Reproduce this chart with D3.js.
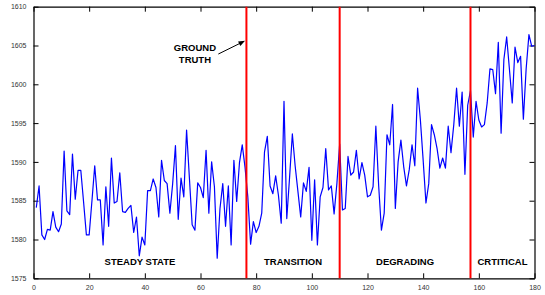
<!DOCTYPE html>
<html>
<head>
<meta charset="utf-8">
<script src="https://cdn.jsdelivr.net/npm/d3@7/dist/d3.min.js"></script>
<style>
body { margin: 0; background: #fff; }
.tick text { font-family: "Liberation Sans", Arial, sans-serif; font-size: 7px; }
.phase, .note { font-family: "Liberation Sans", Arial, sans-serif; font-size: 9.5px; font-weight: bold; fill: #000; }
</style>
</head>
<body>
<div id="chart"></div>
<script>

// sensor readings, one per sample (sample 1 .. 180)
let readings = [
    1584.1, 1586.9, 1580.6, 1580.0, 1581.3, 1581.2, 1583.6, 1581.6, 1581.0, 1582.0,
    1591.4, 1583.7, 1583.2, 1591.0, 1585.2, 1588.9, 1588.9, 1584.8, 1580.6, 1580.6,
    1585.0, 1589.5, 1585.1, 1585.1, 1579.3, 1586.8, 1581.7, 1590.5, 1584.7, 1584.9,
    1588.6, 1583.6, 1583.5, 1584.0, 1584.4, 1580.9, 1582.9, 1577.9, 1580.3, 1579.3,
    1586.3, 1586.3, 1587.8, 1586.7, 1582.9, 1590.2, 1587.6, 1587.2, 1583.4, 1587.2,
    1592.1, 1582.6, 1587.9, 1585.5, 1594.1, 1588.0, 1581.9, 1581.2, 1587.3, 1586.7,
    1585.4, 1591.5, 1583.4, 1590.0, 1586.8, 1577.6, 1584.0, 1587.2, 1581.7, 1586.9,
    1579.3, 1590.2, 1584.9, 1589.9, 1592.2, 1589.3, 1585.5, 1579.4, 1582.3, 1580.9,
    1581.7, 1583.4, 1591.3, 1593.3, 1586.9, 1585.9, 1588.2, 1585.7, 1582.1, 1597.8,
    1582.7, 1588.0, 1593.6, 1589.5, 1586.2, 1582.9, 1587.3, 1586.2, 1589.3, 1579.9,
    1587.7, 1579.3, 1585.5, 1586.7, 1591.7, 1586.4, 1586.9, 1583.3, 1587.2, 1592.3,
    1583.8, 1584.0, 1590.7, 1588.3, 1588.7, 1591.5, 1587.8, 1589.9, 1588.3, 1585.5,
    1585.7, 1586.8, 1594.6, 1587.0, 1581.2, 1583.4, 1593.5, 1592.2, 1597.4, 1584.0,
    1590.0, 1592.8, 1589.4, 1586.9, 1589.0, 1592.2, 1589.5, 1599.5, 1595.4, 1590.2,
    1584.7, 1587.2, 1594.8, 1593.5, 1591.7, 1589.2, 1590.5, 1589.2, 1594.6, 1591.2,
    1594.8, 1599.5, 1594.6, 1599.0, 1588.4, 1597.3, 1599.2, 1593.2, 1597.8, 1595.4,
    1594.5, 1594.8, 1597.6, 1602.0, 1601.9, 1598.8, 1605.4, 1593.7, 1603.2, 1606.1,
    1601.9, 1597.6, 1604.8, 1602.8, 1603.6, 1595.5, 1602.0, 1606.4, 1604.9, 1605.0
];

// ground truth change points (sample index)
let ground_truth = [76.5, 110, 157];
let phase_labels = ["STEADY STATE", "TRANSITION", "DEGRADING", "CRTITICAL"];

let x_ticks = [0, 20, 40, 60, 80, 100, 120, 140, 160, 180];
let y_ticks = [1575, 1580, 1585, 1590, 1595, 1600, 1605, 1610];
let x_domain = [0, 180];
let y_domain = [1575, 1610];

let margin = {top: 6.7, right: 10.5, bottom: 16.7, left: 33.5};
let width = 545 - margin.left - margin.right;
let height = 295 - margin.top - margin.bottom;

let svg = d3.select("#chart").append("svg")
    .attr("width", 545)
    .attr("height", 295)
    .append("g")
    .attr("transform", "translate(" + margin.left + "," + margin.top + ")");

let xScale = d3.scaleLinear().domain(x_domain).range([0, width]);
let yScale = d3.scaleLinear().domain(y_domain).range([height, 0]);

let data = readings.map((v, i) => ({sample: i + 1, value: v}));

// box with inward ticks on all four sides (matlab style)
let tick_len = 5;
svg.append("g")
    .attr("transform", `translate(0,${height})`)
    .call(d3.axisBottom(xScale).tickValues(x_ticks).tickFormat(d3.format("d"))
        .tickSizeInner(-tick_len).tickSizeOuter(0).tickPadding(7));
svg.append("g")
    .call(d3.axisTop(xScale).tickValues(x_ticks).tickSizeInner(-tick_len).tickSizeOuter(0).tickFormat(""));
svg.append("g")
    .call(d3.axisLeft(yScale).tickValues(y_ticks).tickFormat(d3.format("d"))
        .tickSizeInner(-tick_len).tickSizeOuter(0).tickPadding(7));
svg.append("g")
    .attr("transform", `translate(${width},0)`)
    .call(d3.axisRight(yScale).tickValues(y_ticks).tickSizeInner(-tick_len).tickSizeOuter(0).tickFormat(""));

svg.selectAll(".domain").attr("stroke", "#000").attr("stroke-width", 1.2);
svg.selectAll(".tick line").attr("stroke", "#000").attr("stroke-width", 1);
svg.selectAll(".tick text").attr("fill", "#333");

// blue signal
let line = d3.line()
    .x(d => xScale(d.sample))
    .y(d => yScale(d.value));

svg.append("path")
    .datum(data)
    .attr("d", line)
    .style("fill", "none")
    .style("stroke", "#0000ff")
    .style("stroke-width", 1.2)
    .style("stroke-linejoin", "round");

// red ground truth lines
svg.selectAll(".truth")
    .data(ground_truth)
    .enter().append("line")
    .attr("class", "truth")
    .attr("x1", d => xScale(d))
    .attr("x2", d => xScale(d))
    .attr("y1", 0)
    .attr("y2", height)
    .style("stroke", "#ff0000")
    .style("stroke-width", 2);

// phase names, centred between the change points
let bounds = [x_domain[0]].concat(ground_truth, [x_domain[1]]);
svg.selectAll(".phase")
    .data(phase_labels)
    .enter().append("text")
    .attr("class", "phase")
    .attr("x", (d, i) => xScale((bounds[i] + bounds[i + 1]) / 2))
    .attr("y", yScale(1576.7))
    .attr("text-anchor", "middle")
    .text(d => d);

// ground truth note + arrow
svg.append("text").attr("class", "note")
    .attr("x", xScale(58)).attr("y", yScale(1604.3))
    .attr("text-anchor", "middle").text("GROUND");
svg.append("text").attr("class", "note")
    .attr("x", xScale(58)).attr("y", yScale(1602.8))
    .attr("text-anchor", "middle").text("TRUTH");

let ax1 = xScale(66.4), ay1 = yScale(1603.9);
let ax2 = xScale(76), ay2 = yScale(1605.6);
let ang = Math.atan2(ay2 - ay1, ax2 - ax1);
let head = 7, spread = 0.38;
svg.append("line")
    .attr("x1", ax1).attr("y1", ay1)
    .attr("x2", ax2 - Math.cos(ang) * 4).attr("y2", ay2 - Math.sin(ang) * 4)
    .style("stroke", "#000").style("stroke-width", 1);
svg.append("path")
    .attr("d", "M" + ax2 + "," + ay2 +
        "L" + (ax2 - head * Math.cos(ang - spread)) + "," + (ay2 - head * Math.sin(ang - spread)) +
        "L" + (ax2 - head * Math.cos(ang + spread)) + "," + (ay2 - head * Math.sin(ang + spread)) + "Z")
    .style("fill", "#000");

</script>
</body>
</html>
